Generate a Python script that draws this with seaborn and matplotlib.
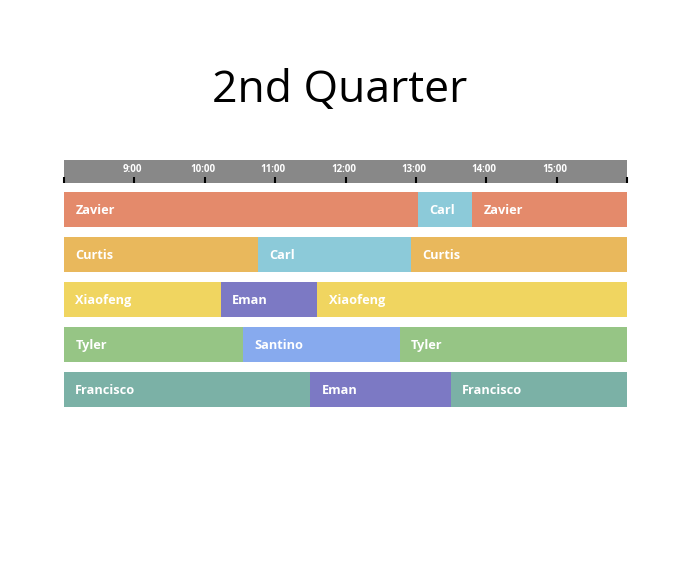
import matplotlib
matplotlib.use('Agg')
import matplotlib.pyplot as plt
import seaborn as sns

# ==============================
# Data (times in hours, 8:00 - 16:00)
# ==============================
rows = ["Row 1", "Row 2", "Row 3", "Row 4", "Row 5"]
names_1 = ["Zavier", "Carl", "Zavier"]
starts_1 = [8.0, 13.03, 13.8]
ends_1 = [13.03, 13.8, 16.0]
names_2 = ["Curtis", "Carl", "Curtis"]
starts_2 = [8.0, 10.75, 12.93]
ends_2 = [10.75, 12.93, 16.0]
names_3 = ["Xiaofeng", "Eman", "Xiaofeng"]
starts_3 = [8.0, 10.23, 11.6]
ends_3 = [10.23, 11.6, 16.0]
names_4 = ["Tyler", "Santino", "Tyler"]
starts_4 = [8.0, 10.55, 12.77]
ends_4 = [10.55, 12.77, 16.0]
names_5 = ["Francisco", "Eman", "Francisco"]
starts_5 = [8.0, 11.5, 13.5]
ends_5 = [11.5, 13.5, 16.0]

tick_hours = [9, 10, 11, 12, 13, 14, 15]
tick_labels = ["9:00", "10:00", "11:00", "12:00", "13:00", "14:00", "15:00"]

colors = {
    "Zavier": "#E48A6B",
    "Carl": "#8CCAD9",
    "Curtis": "#E9B85C",
    "Xiaofeng": "#F0D560",
    "Eman": "#7C79C4",
    "Tyler": "#96C585",
    "Santino": "#87AAEE",
    "Francisco": "#7BB1A6",
}

all_names = [names_1, names_2, names_3, names_4, names_5]
all_starts = [starts_1, starts_2, starts_3, starts_4, starts_5]
all_ends = [ends_1, ends_2, ends_3, ends_4, ends_5]

sns.set_style("white")
plt.rcParams['font.family'] = ['Open Sans', 'DejaVu Sans']

W, H = 696, 564
fig = plt.figure(figsize=(W / 100, H / 100), dpi=100)

# ==============================
# Title
# ==============================
fig.text(340 / W, 1 - 91 / H, "2nd Quarter", ha="center", va="center",
         fontsize=32, color="black")

# ==============================
# Time band
# ==============================
band = fig.add_axes([64 / W, 1 - 183 / H, 563 / W, 23 / H])
band.set_facecolor("#888888")
band.set_xlim(8, 16)
band.set_ylim(0, 1)
band.set_yticks([])
band.set_xticks(range(8, 17))
band.set_xticklabels([])
band.tick_params(axis="x", direction="in", length=4, width=1.5, color="black",
                 bottom=True)
for s in band.spines.values():
    s.set_visible(False)
for h, lab in zip(tick_hours, tick_labels):
    band.text(h - 0.03, 0.6, lab, ha="center", va="center", fontsize=7,
              fontweight="bold", color="white")

# ==============================
# Schedule bars
# ==============================
ax = fig.add_axes([64 / W, 1 - 407 / H, 563 / W, 215 / H])
ax.set_xlim(8, 16)
ax.set_ylim(4 + 0.389, -0.389)
for i, row in enumerate(rows):
    for name, st, en in zip(all_names[i], all_starts[i], all_ends[i]):
        ax.barh(i, en - st, left=st, height=0.778, color=colors[name],
                edgecolor="none")
        ax.text(st + 0.16, i + 0.03, name, ha="left", va="center",
                fontsize=9.2, fontweight="bold", color="white")
ax.axis("off")

fig.savefig("out.png", dpi=100)
